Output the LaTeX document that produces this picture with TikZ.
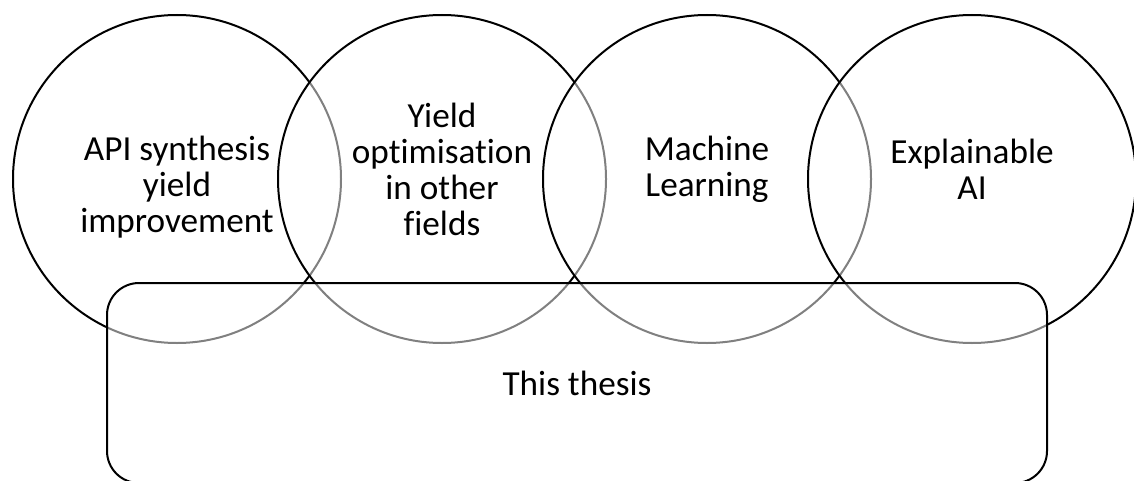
\documentclass[tikz,border=0pt]{standalone}
\usepackage{fontspec}
\setmainfont{Carlito}[Ligatures=NoCommon]
\usetikzlibrary{positioning}

\begin{document}
\begin{tikzpicture}[
        x=0.5pt, y=-0.5pt,
        node distance=-32.5pt,
        area/.style={circle, draw=black, line width=1pt, fill=white, fill opacity=0.5, text opacity=1, minimum size=164pt},
        scopebox/.style={rectangle, draw=black, line width=1pt, fill=white, fill opacity=0.5, text opacity=1, rounded corners=16pt, minimum width=470pt, minimum height=100pt},
        txt/.style={align=center, font=\fontsize{17.6}{18}\selectfont}
    ]
        \useasboundingbox (0,0) rectangle (1134,481);

        % the four fields, overlapping left to right
        \node[area] (api) at (177,179) {};
        \node[area, right=of api] (yield) {};
        \node[area, right=of yield] (ml) {};
        \node[area, right=of ml] (xai) {};

        % the thesis spans all of them
        \node[scopebox, txt] (thesis) at (577,383) {This thesis};

        \node[txt, yshift=-4pt] (api-txt) at (api) {API synthesis\\yield\\improvement};
        \node[txt, yshift=5pt] (yield-txt) at (yield) {Yield\\optimisation\\in other\\fields};
        \node[txt, yshift=5pt] (ml-txt) at (ml) {Machine\\Learning};
        \node[txt, yshift=5pt] (xai-txt) at (xai) {Explainable\\AI};
    \end{tikzpicture}
\end{document}
